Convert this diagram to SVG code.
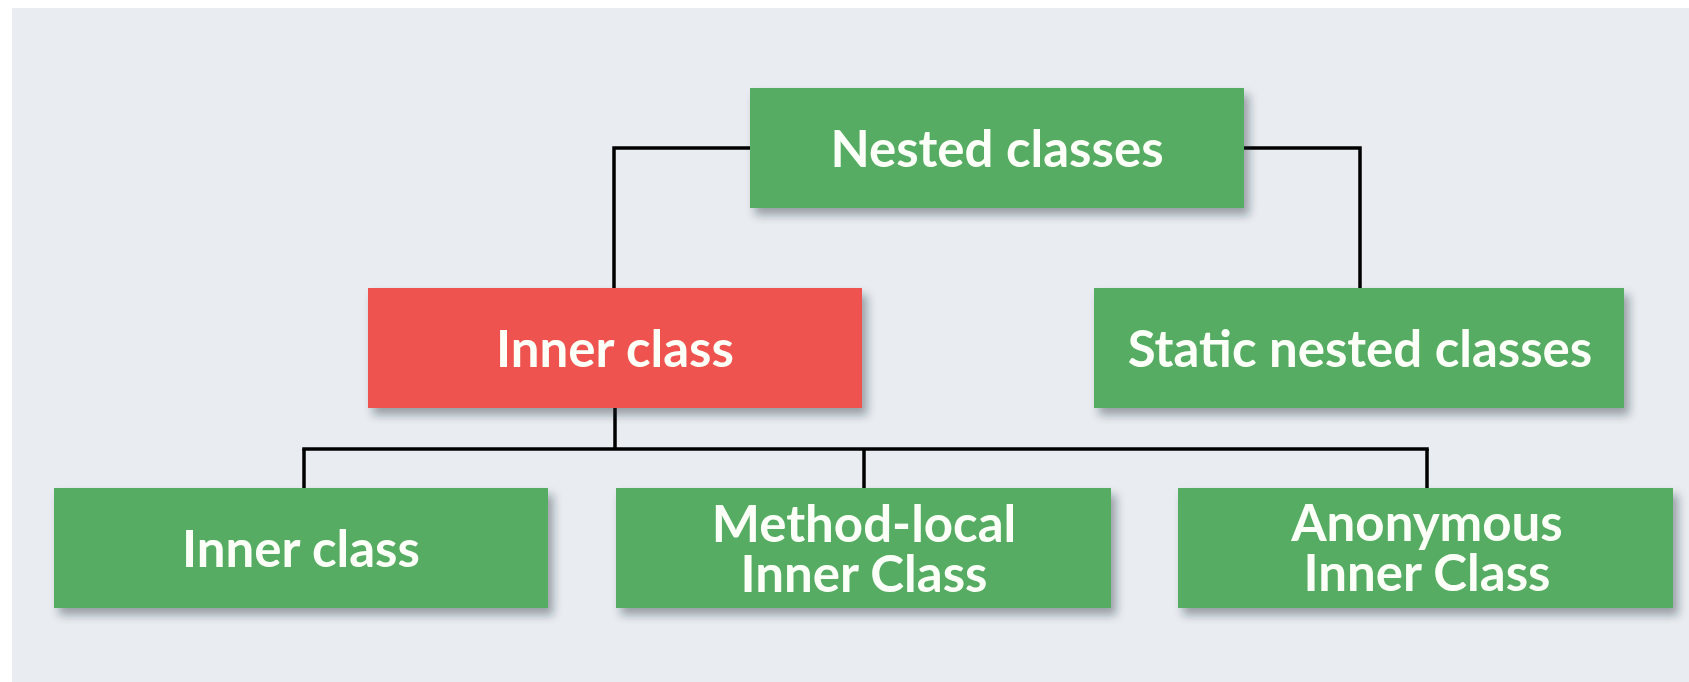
<svg xmlns="http://www.w3.org/2000/svg" width="1689" height="682" viewBox="0 0 1689 682">
  <style>
    .box { fill: #55AC62; filter: url(#shadow); }
    .box.red { fill: #EF5350; }
    .label { font-family: Lato, "Open Sans", "Liberation Sans", sans-serif; font-weight: bold; font-size: 51px; fill: #FBFFF7; text-anchor: middle; }
    .wire { fill: none; stroke: #000000; stroke-width: 3.5; }
  </style>
  <defs>
    <filter id="shadow" x="-10%" y="-20%" width="125%" height="150%">
      <feDropShadow dx="5" dy="7" stdDeviation="5" flood-color="#1a2230" flood-opacity="0.4"/>
    </filter>
  </defs>

  <!-- page -->
  <rect x="0" y="0" width="1689" height="682" fill="#FFFFFF"/>
  <rect x="12" y="8" width="1677" height="674" fill="#E9EDF1"/>

  <!-- connectors -->
  <g id="connectors">
    <polyline class="wire" points="750,148 614,148 614,288"/>
    <polyline class="wire" points="1244,148 1360,148 1360,288"/>
    <line class="wire" x1="615" y1="408" x2="615" y2="449"/>
    <line class="wire" x1="302.25" y1="449" x2="1428.75" y2="449"/>
    <line class="wire" x1="304" y1="449" x2="304" y2="488"/>
    <line class="wire" x1="864" y1="449" x2="864" y2="488"/>
    <line class="wire" x1="1427" y1="449" x2="1427" y2="488"/>
  </g>

  <!-- nodes -->
  <g id="nested-classes">
    <rect class="box" x="750" y="88" width="494" height="120"/>
    <text class="label" x="997" y="167">Nested classes</text>
  </g>

  <g id="inner-class">
    <rect class="box red" x="368" y="288" width="494" height="120"/>
    <text class="label" x="615" y="367">Inner class</text>
  </g>

  <g id="static-nested-classes">
    <rect class="box" x="1094" y="288" width="530" height="120"/>
    <text class="label" x="1360" y="367">Static nested classes</text>
  </g>

  <g id="member-inner-class">
    <rect class="box" x="54" y="488" width="494" height="120"/>
    <text class="label" x="301" y="567">Inner class</text>
  </g>

  <g id="method-local-inner-class">
    <rect class="box" x="616" y="488" width="495" height="120"/>
    <text class="label" x="864" y="542">Method-local</text>
    <text class="label" x="864" y="592">Inner Class</text>
  </g>

  <g id="anonymous-inner-class">
    <rect class="box" x="1178" y="488" width="495" height="120"/>
    <text class="label" x="1427" y="541">Anonymous</text>
    <text class="label" x="1427" y="591">Inner Class</text>
  </g>
</svg>
